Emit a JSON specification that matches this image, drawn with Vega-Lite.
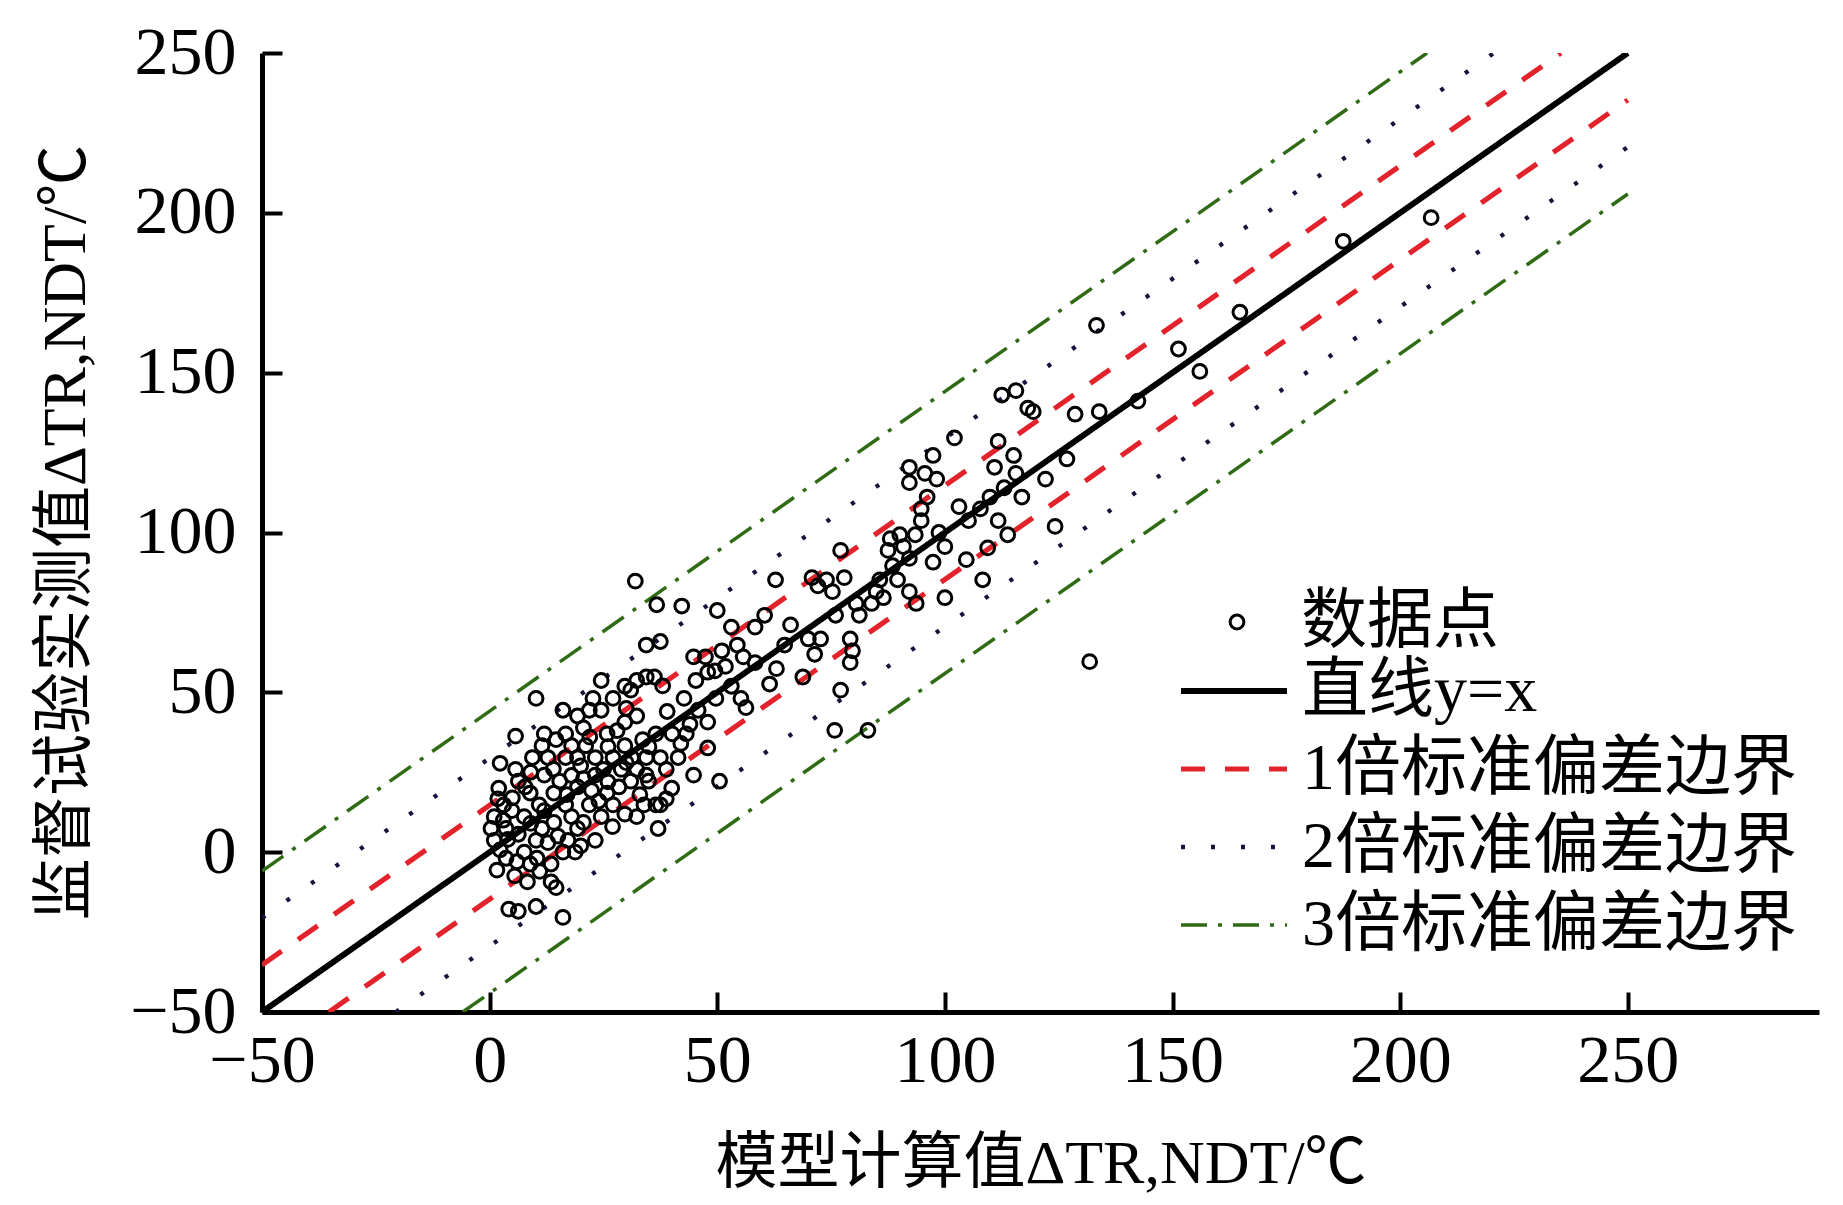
{
  "$schema": "https://vega.github.io/schema/vega-lite/v6.json",
  "autosize": "none",
  "width": 1557,
  "height": 959,
  "padding": {"left": 262, "top": 53, "right": 24, "bottom": 193},
  "background": "white",
  "config": {
    "view": {"stroke": null},
    "font": "Liberation Serif, Noto Sans CJK SC",
    "axis": {
      "grid": false,
      "domainColor": "black",
      "domainWidth": 5,
      "tickColor": "black",
      "tickWidth": 4,
      "tickSize": -20,
      "labelFlush": false,
      "labelFont": "Liberation Serif",
      "labelFontSize": 68,
      "labelColor": "black",
      "titleFont": "Liberation Serif, Noto Sans CJK SC",
      "titleFontSize": 62,
      "titleFontWeight": "normal",
      "titleColor": "black"
    },
    "legend": {
      "labelFont": "Liberation Serif, Noto Sans CJK SC",
      "labelFontSize": 66,
      "labelColor": "black",
      "labelLimit": 0,
      "padding": 0
    }
  },
  "datasets": {
    "points": [
      {"x": 32.0, "y": 84.8}, {"x": 36.7, "y": 77.4}, {"x": 42.2, "y": 77.0}, {"x": 50.0, "y": 75.6},
      {"x": 62.8, "y": 85.2}, {"x": 77.1, "y": 94.4}, {"x": 131.8, "y": 59.6}, {"x": 75.8, "y": 38.1},
      {"x": 83.1, "y": 38.1}, {"x": 206.8, "y": 198.5}, {"x": 187.5, "y": 191.1}, {"x": 164.8, "y": 168.9},
      {"x": 133.3, "y": 164.8}, {"x": 151.3, "y": 157.4}, {"x": 156.0, "y": 150.4}, {"x": 133.9, "y": 137.8},
      {"x": 128.6, "y": 137.0}, {"x": 142.4, "y": 141.1}, {"x": 126.8, "y": 123.0}, {"x": 124.2, "y": 101.9},
      {"x": 122.1, "y": 116.7}, {"x": 119.4, "y": 137.8}, {"x": 118.2, "y": 138.9}, {"x": 115.6, "y": 144.4},
      {"x": 112.5, "y": 143.0}, {"x": 111.7, "y": 128.5}, {"x": 115.1, "y": 124.1}, {"x": 115.6, "y": 118.5},
      {"x": 113.0, "y": 114.0}, {"x": 116.9, "y": 111.1}, {"x": 111.7, "y": 103.7}, {"x": 113.8, "y": 99.3},
      {"x": 109.4, "y": 95.2}, {"x": 108.3, "y": 85.2}, {"x": 104.7, "y": 91.5}, {"x": 103.1, "y": 108.1},
      {"x": 102.1, "y": 129.6}, {"x": 97.4, "y": 124.1}, {"x": 98.2, "y": 116.7}, {"x": 92.2, "y": 115.6},
      {"x": 94.8, "y": 107.4}, {"x": 94.8, "y": 103.7}, {"x": 98.7, "y": 100.0}, {"x": 100.0, "y": 95.6},
      {"x": 97.4, "y": 90.7}, {"x": 100.0, "y": 79.6}, {"x": 93.7, "y": 77.8}, {"x": 92.2, "y": 81.5},
      {"x": 90.9, "y": 95.6}, {"x": 87.5, "y": 94.4}, {"x": 88.5, "y": 89.6}, {"x": 85.7, "y": 85.2},
      {"x": 92.2, "y": 91.9}, {"x": 81.2, "y": 74.1}, {"x": 77.9, "y": 85.9}, {"x": 74.0, "y": 85.2},
      {"x": 72.1, "y": 83.3}, {"x": 72.7, "y": 66.7}, {"x": 71.4, "y": 61.9}, {"x": 68.8, "y": 54.8},
      {"x": 64.8, "y": 64.8}, {"x": 63.0, "y": 57.4}, {"x": 61.5, "y": 52.6}, {"x": 58.3, "y": 59.3},
      {"x": 58.3, "y": 70.4}, {"x": 60.4, "y": 74.1}, {"x": 55.2, "y": 48.1}, {"x": 53.1, "y": 51.9},
      {"x": 51.8, "y": 58.1}, {"x": 49.5, "y": 56.7}, {"x": 49.7, "y": 48.1}, {"x": 50.5, "y": 22.2},
      {"x": 47.9, "y": 40.7}, {"x": 47.9, "y": 32.6}, {"x": 44.8, "y": 24.1}, {"x": 45.8, "y": 44.4},
      {"x": 44.8, "y": 61.1}, {"x": 42.7, "y": 48.1}, {"x": 43.2, "y": 37.0}, {"x": 77.1, "y": 50.7},
      {"x": 79.2, "y": 59.3}, {"x": 79.7, "y": 63.0}, {"x": 79.2, "y": 66.7}, {"x": 76.0, "y": 74.1},
      {"x": 84.9, "y": 81.5}, {"x": 75.3, "y": 81.5}, {"x": 56.3, "y": 45.2}, {"x": 88.0, "y": 98.1},
      {"x": 90.1, "y": 99.3}, {"x": 93.5, "y": 99.3}, {"x": 96.1, "y": 111.1}, {"x": 95.6, "y": 118.5},
      {"x": 92.2, "y": 120.4}, {"x": 89.6, "y": 85.2}, {"x": 86.5, "y": 79.6}, {"x": 83.9, "y": 77.8},
      {"x": 80.5, "y": 77.8}, {"x": 70.8, "y": 85.9}, {"x": 66.1, "y": 71.1}, {"x": 70.0, "y": 66.7},
      {"x": 54.4, "y": 64.8}, {"x": 51.0, "y": 63.0}, {"x": 47.4, "y": 61.1}, {"x": 53.1, "y": 70.4},
      {"x": 55.7, "y": 61.1}, {"x": 47.9, "y": 56.3}, {"x": 45.3, "y": 53.7}, {"x": 105.2, "y": 103.7},
      {"x": 107.8, "y": 107.4}, {"x": 109.9, "y": 111.1}, {"x": 110.9, "y": 120.4},
      {"x": 0.3, "y": 7.4}, {"x": 1.0, "y": 3.7}, {"x": 1.6, "y": -5.6}, {"x": 2.3, "y": 27.8},
      {"x": 5.7, "y": 36.3}, {"x": 10.2, "y": 48.1}, {"x": 6.3, "y": -18.5}, {"x": 4.2, "y": -17.8},
      {"x": 10.2, "y": -17.0}, {"x": 16.1, "y": -20.4}, {"x": 14.6, "y": -11.1}, {"x": 13.5, "y": -9.3},
      {"x": 18.8, "y": 0.0}, {"x": 16.1, "y": 44.4}, {"x": 19.3, "y": 42.6}, {"x": 20.6, "y": 38.9},
      {"x": 21.9, "y": 44.4}, {"x": 24.5, "y": 44.4}, {"x": 27.1, "y": 48.1}, {"x": 25.8, "y": 37.0},
      {"x": 23.2, "y": 29.6}, {"x": 29.7, "y": 51.9}, {"x": 32.3, "y": 53.7}, {"x": 31.0, "y": 50.7},
      {"x": 34.4, "y": 54.8}, {"x": 36.2, "y": 54.8}, {"x": 32.3, "y": 42.6}, {"x": 29.7, "y": 40.7},
      {"x": 34.4, "y": 29.6}, {"x": 34.9, "y": 22.2}, {"x": 36.5, "y": 37.0}, {"x": 37.5, "y": 29.6},
      {"x": 38.8, "y": 25.9}, {"x": 40.1, "y": 37.0}, {"x": 36.5, "y": 14.8}, {"x": 33.9, "y": 14.8},
      {"x": 32.3, "y": 11.1}, {"x": 29.7, "y": 11.9}, {"x": 27.1, "y": 14.8}, {"x": 25.8, "y": 18.5},
      {"x": 24.5, "y": 11.1}, {"x": 21.9, "y": 14.8}, {"x": 20.6, "y": 9.3}, {"x": 19.3, "y": 20.4},
      {"x": 18.0, "y": 11.1}, {"x": 16.7, "y": 14.8}, {"x": 15.4, "y": 22.2}, {"x": 14.1, "y": 18.5},
      {"x": 12.8, "y": 29.6}, {"x": 12.0, "y": 24.1}, {"x": 10.9, "y": 14.8}, {"x": 8.9, "y": 18.5},
      {"x": 7.6, "y": 11.1}, {"x": 6.3, "y": 22.2}, {"x": 4.9, "y": 13.0}, {"x": 3.6, "y": 7.4},
      {"x": 3.1, "y": 14.8}, {"x": 6.3, "y": 5.6}, {"x": 7.6, "y": 0.0}, {"x": 8.9, "y": -3.7},
      {"x": 10.2, "y": 3.7}, {"x": 11.5, "y": 7.4}, {"x": 12.8, "y": 3.0}, {"x": 14.1, "y": 9.3},
      {"x": 8.3, "y": -9.3}, {"x": 5.5, "y": -7.4}, {"x": 3.6, "y": -1.9}, {"x": 2.3, "y": 0.7},
      {"x": 1.0, "y": 11.1}, {"x": 1.8, "y": 16.7}, {"x": 16.7, "y": 29.6}, {"x": 19.3, "y": 29.6},
      {"x": 21.1, "y": 33.3}, {"x": 23.2, "y": 24.1}, {"x": 25.0, "y": 25.9}, {"x": 27.1, "y": 29.6},
      {"x": 28.9, "y": 25.9}, {"x": 29.7, "y": 33.3}, {"x": 31.2, "y": 29.6}, {"x": 32.3, "y": 25.9},
      {"x": 33.6, "y": 35.2}, {"x": 28.4, "y": 20.4}, {"x": 31.0, "y": 22.2}, {"x": 16.7, "y": 37.0},
      {"x": 14.6, "y": 35.2}, {"x": 18.0, "y": 33.3}, {"x": 12.0, "y": 37.0}, {"x": 20.6, "y": 23.0},
      {"x": 22.4, "y": 19.3}, {"x": 17.2, "y": 3.7}, {"x": 19.3, "y": 7.4}, {"x": 23.2, "y": 3.7},
      {"x": 16.1, "y": 0.0}, {"x": 13.5, "y": -3.7}, {"x": 10.4, "y": -1.9}, {"x": 37.0, "y": 7.4},
      {"x": 37.5, "y": 14.8}, {"x": 38.8, "y": 16.7}, {"x": 34.4, "y": 24.1}, {"x": 41.4, "y": 29.6},
      {"x": 5.7, "y": 25.9}, {"x": 7.8, "y": 20.4}, {"x": 9.4, "y": 29.6}, {"x": 11.5, "y": 33.3},
      {"x": 34.4, "y": 64.8}, {"x": 37.5, "y": 65.9}, {"x": 22.7, "y": 48.1}, {"x": 24.5, "y": 53.7},
      {"x": 2.0, "y": 20.0}, {"x": 4.0, "y": 4.0}, {"x": 5.0, "y": 17.0}, {"x": 9.0, "y": 9.0},
      {"x": 12.0, "y": 13.0}, {"x": 14.0, "y": 26.0}, {"x": 17.0, "y": 18.0}, {"x": 20.0, "y": 27.0},
      {"x": 22.0, "y": 36.0}, {"x": 26.0, "y": 33.0}, {"x": 28.0, "y": 38.0}, {"x": 30.0, "y": 28.0},
      {"x": 26.0, "y": 22.0}, {"x": 24.0, "y": 16.0}, {"x": 18.0, "y": 24.0}, {"x": 9.0, "y": 25.0},
      {"x": 3.0, "y": 10.0}, {"x": 6.0, "y": -3.0}, {"x": 11.0, "y": -6.0}, {"x": 15.0, "y": 5.0},
      {"x": 20.0, "y": 2.0}, {"x": 27.0, "y": 8.0}, {"x": 33.0, "y": 18.0}, {"x": 35.0, "y": 33.0},
      {"x": 39.0, "y": 44.0}, {"x": 42.0, "y": 34.0}, {"x": 40.0, "y": 20.0}, {"x": 44.0, "y": 40.0},
      {"x": 38.0, "y": 52.0}, {"x": 30.0, "y": 45.0}
    ],
    "lines": [
      {"series": "直线y=x", "side": "mid", "x": -50, "y": -50},
      {"series": "直线y=x", "side": "mid", "x": 250, "y": 250},
      {"series": "1倍标准偏差边界", "side": "upper", "x": -50, "y": -35.3},
      {"series": "1倍标准偏差边界", "side": "upper", "x": 235.3, "y": 250},
      {"series": "1倍标准偏差边界", "side": "lower", "x": -35.3, "y": -50},
      {"series": "1倍标准偏差边界", "side": "lower", "x": 250, "y": 235.3},
      {"series": "2倍标准偏差边界", "side": "upper", "x": -50, "y": -20.6},
      {"series": "2倍标准偏差边界", "side": "upper", "x": 220.6, "y": 250},
      {"series": "2倍标准偏差边界", "side": "lower", "x": -20.6, "y": -50},
      {"series": "2倍标准偏差边界", "side": "lower", "x": 250, "y": 220.6},
      {"series": "3倍标准偏差边界", "side": "upper", "x": -50, "y": -5.9},
      {"series": "3倍标准偏差边界", "side": "upper", "x": 205.9, "y": 250},
      {"series": "3倍标准偏差边界", "side": "lower", "x": -5.9, "y": -50},
      {"series": "3倍标准偏差边界", "side": "lower", "x": 250, "y": 205.9}
    ]
  },
  "encoding": {
    "x": {
      "field": "x",
      "type": "quantitative",
      "scale": {"domain": [-50, 292], "nice": false, "zero": false},
      "axis": {
        "values": [-50, 0, 50, 100, 150, 200, 250],
        "labelPadding": 35,
        "title": "模型计算值ΔTR,NDT/℃",
        "titleBaseline": "middle",
        "titleY": 151
      }
    },
    "y": {
      "field": "y",
      "type": "quantitative",
      "scale": {"domain": [-50, 250], "nice": false, "zero": false},
      "axis": {
        "values": [-50, 0, 50, 100, 150, 200, 250],
        "labelPadding": 46,
        "title": "监督试验实测值ΔTR,NDT/℃",
        "titleBaseline": "middle",
        "titleX": -197,
        "titleY": 479
      }
    }
  },
  "layer": [
    {
      "data": {"name": "lines"},
      "mark": {"type": "line", "clip": true},
      "encoding": {
        "detail": {"field": "side", "type": "nominal"},
        "color": {
          "field": "series",
          "type": "nominal",
          "scale": {
            "domain": ["直线y=x", "1倍标准偏差边界", "2倍标准偏差边界", "3倍标准偏差边界"],
            "range": ["#000000", "#e3232c", "#14143c", "#2f6b14"]
          },
          "legend": {
            "title": null,
            "orient": "none",
            "legendX": 939,
            "legendY": 605,
            "symbolType": "M-2,0H2",
            "symbolSize": 2809,
            "labelOffset": 35,
            "rowPadding": 12
          }
        },
        "strokeDash": {
          "field": "series",
          "type": "nominal",
          "scale": {
            "domain": ["直线y=x", "1倍标准偏差边界", "2倍标准偏差边界", "3倍标准偏差边界"],
            "range": [[1, 0], [24, 20], [4, 26], [26, 11, 4, 11]]
          }
        },
        "strokeWidth": {
          "field": "series",
          "type": "nominal",
          "scale": {
            "domain": ["直线y=x", "1倍标准偏差边界", "2倍标准偏差边界", "3倍标准偏差边界"],
            "range": [6, 3.5, 4.5, 3.5]
          }
        }
      }
    },
    {
      "data": {"name": "points"},
      "mark": {"type": "point", "filled": false, "color": "black", "strokeWidth": 3, "size": 190, "opacity": 1},
      "encoding": {
        "shape": {
          "datum": "数据点",
          "type": "nominal",
          "scale": {"range": ["circle"]},
          "legend": {
            "title": null,
            "orient": "none",
            "legendX": 942,
            "legendY": 536,
            "symbolSize": 190,
            "symbolStrokeWidth": 3,
            "labelOffset": 31
          }
        }
      }
    }
  ]
}
